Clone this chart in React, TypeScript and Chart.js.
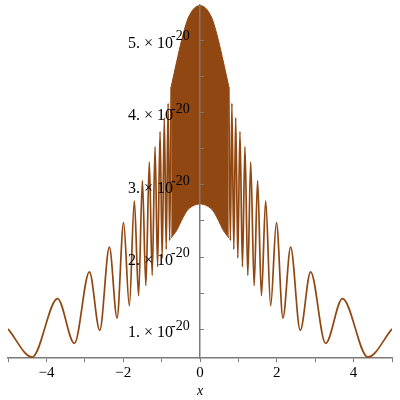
import React, { useEffect, useRef } from 'react';
import { Chart, registerables } from 'chart.js';

Chart.register(...registerables);

// Oscillating curve, left part (extrema), values in units of 1e-20
const leftX = [-5, -4.37, -3.71, -3.27, -2.88, -2.61, -2.36, -2.16, -1.99, -1.84, -1.71, -1.6, -1.5, -1.41, -1.32, -1.245, -1.17, -1.105, -1.04, -0.985, -0.93, -0.88, -0.83, -0.79, -0.75];
const leftY = [1.0, 0.61, 1.42, 0.8, 1.79, 0.98, 2.13, 1.15, 2.47, 1.32, 2.77, 1.46, 3.05, 1.6, 3.31, 1.74, 3.52, 1.86, 3.73, 1.98, 3.92, 2.1, 4.12, 2.22, 4.35];

// Right part
const rightX = [0.75, 0.79, 0.83, 0.88, 0.93, 0.985, 1.04, 1.105, 1.17, 1.245, 1.32, 1.41, 1.5, 1.6, 1.71, 1.84, 1.99, 2.16, 2.36, 2.61, 2.88, 3.27, 3.71, 4.37, 5];
const rightY = [4.35, 2.22, 4.12, 2.1, 3.92, 1.98, 3.73, 1.86, 3.52, 1.74, 3.31, 1.6, 3.05, 1.46, 2.77, 1.32, 2.47, 1.15, 2.13, 0.98, 1.79, 0.8, 1.42, 0.61, 1.0];

// Dense central band (too fast to resolve): upper and lower envelopes
const bandX = [-0.75, -0.61, -0.48, -0.33, -0.19, -0.09, 0, 0.09, 0.19, 0.33, 0.48, 0.61, 0.75];
const bandUpper = [4.35, 4.69, 4.99, 5.27, 5.41, 5.46, 5.47, 5.46, 5.41, 5.27, 4.99, 4.69, 4.35];
const bandLower = [2.26, 2.36, 2.5, 2.64, 2.7, 2.72, 2.73, 2.72, 2.7, 2.64, 2.5, 2.36, 2.26];

const xTickLabels = ['−4', '−2', '0', '2', '4'];
const xTickValues = [-4, -2, 0, 2, 4];
const yTickValues = [1, 2, 3, 4, 5];
const yExponent = '-20';

const BROWN = 'rgb(145, 71, 18)';
const AXIS = '#7a7a7a';

const pts = (xs: number[], ys: number[]) => xs.map((x, i) => ({ x, y: ys[i] }));

const yAxisLabels = {
  id: 'yAxisLabels',
  afterDraw(chart: any) {
    const ys = chart.scales.y;
    const xs = chart.scales.x;
    const ax = xs.getPixelForValue(0);
    const ctx = chart.ctx;
    ctx.save();
    ctx.strokeStyle = AXIS;
    ctx.lineWidth = 1;
    ys.ticks.forEach((t: any) => {
      const py = Math.round(ys.getPixelForValue(t.value)) + 0.5;
      ctx.beginPath();
      ctx.moveTo(ax, py);
      ctx.lineTo(ax + 4, py);
      ctx.stroke();
    });
    ctx.fillStyle = '#000';
    yTickValues.forEach((v) => {
      const py = ys.getPixelForValue(v);
      ctx.font = '16px "Liberation Serif"';
      ctx.textAlign = 'right';
      ctx.textBaseline = 'middle';
      ctx.fillText(`${v}. × 10`, ax - 27, py + 4);
      ctx.font = '14px "Liberation Serif"';
      ctx.textAlign = 'left';
      ctx.fillText(yExponent, ax - 29, py - 3);
    });
    ctx.restore();
  },
};

export default function App() {
  const ref = useRef<HTMLCanvasElement>(null);
  useEffect(() => {
    if (!ref.current) return;
    const lineBase = {
      borderColor: BROWN,
      pointRadius: 0,
      cubicInterpolationMode: 'monotone' as const,
    };
    const chart = new Chart(ref.current, {
      type: 'line',
      data: {
        datasets: [
          { ...lineBase, data: pts(bandX, bandUpper), borderWidth: 1, fill: false },
          { ...lineBase, data: pts(bandX, bandLower), borderWidth: 1, backgroundColor: BROWN, fill: '-1' },
          { ...lineBase, data: pts(leftX, leftY), borderWidth: 1.7, fill: false },
          { ...lineBase, data: pts(rightX, rightY), borderWidth: 1.7, fill: false },
        ],
      },
      options: {
        animation: false,
        responsive: false,
        layout: { padding: { left: 8, right: 8, top: 5, bottom: 0 } },
        plugins: { legend: { display: false }, tooltip: { enabled: false } },
        scales: {
          x: {
            type: 'linear',
            min: -5,
            max: 5,
            position: 'bottom',
            grid: { drawOnChartArea: false, tickLength: 4, color: AXIS },
            border: { color: AXIS, width: 1.5 },
            ticks: {
              stepSize: 1,
              autoSkip: false,
              maxRotation: 0,
              padding: 2,
              color: '#000',
              font: { family: 'Liberation Serif', size: 15 },
              callback: (v: any) => {
                const i = xTickValues.indexOf(Number(v));
                return i >= 0 ? xTickLabels[i] : '';
              },
            },
            title: {
              display: true,
              text: 'x',
              color: '#000',
              font: { family: 'Liberation Serif', size: 14, style: 'italic' },
              padding: { top: -1, bottom: 0 },
            },
          },
          y: {
            type: 'linear',
            min: 0.595,
            max: 5.48,
            position: { x: 0 } as any,
            grid: { display: false },
            border: { display: true, color: AXIS, width: 1.5, z: 1 },
            ticks: {
              display: false,
              stepSize: 0.5,
              includeBounds: false,
              autoSkip: false,
            },
            afterFit: (s: any) => {
              s.paddingTop = 0;
              s.paddingBottom = 0;
            },
          },
        },
      },
      plugins: [yAxisLabels],
    });
    return () => chart.destroy();
  }, []);
  return (
    <div style={{ position: 'absolute', left: 0, top: 0, width: 400, height: 400 }}>
      <canvas ref={ref} width={400} height={400} />
    </div>
  );
}
